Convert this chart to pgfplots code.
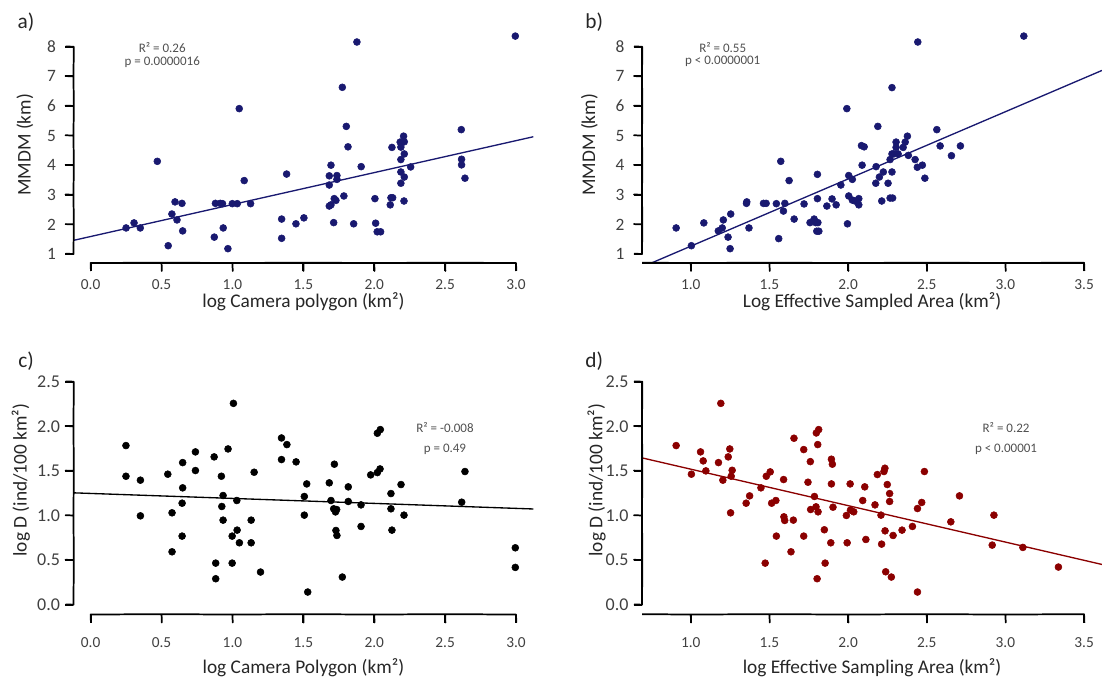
\documentclass[border=0pt]{standalone}
\usepackage{pgfplots}
\pgfplotsset{compat=1.18}
\usepackage{fontspec}
\setmainfont{Carlito}
\definecolor{navy}{RGB}{25,25,112}
\definecolor{dred}{RGB}{139,0,0}
\definecolor{tickc}{RGB}{64,64,64}
\definecolor{labc}{RGB}{38,38,38}
\definecolor{annc}{RGB}{80,80,80}

\pgfplotsset{
 panel/.style={
  scale only axis, clip=false, axis on top,
  axis x line*=bottom, axis y line*=left,
  axis line style={-, draw=black, line width=1.3pt},
  tick align=outside,
  major tick length=6pt,
  major tick style={draw=black, line width=1.3pt},
  /pgf/number format/assume math mode=true,
  xticklabel style={font=\fontsize{11.5}{12}\selectfont, text=tickc, anchor=center},
  yticklabel style={text=tickc, anchor=east},
  xlabel style={font=\fontsize{14.5}{16}\selectfont, text=labc, anchor=center},
  ylabel style={font=\fontsize{14.5}{16}\selectfont, text=labc, anchor=center},
  anchor=south west,
 },
 topx/.style={xticklabel style={yshift=-10.3pt}},
 botx/.style={xticklabel style={yshift=-15.4pt}},
 topy/.style={yticklabel style={xshift=-3.6pt, font=\fontsize{13}{14}\selectfont}, ytick={1,2,3,4,5,6,7,8}, ymin=0.696, ymax=8.5, height=173.3pt,
   y axis line style={shorten <=6.75pt, shorten >=11.1pt}},
 boty/.style={yticklabel style={xshift=-0.6pt, font=\fontsize{13.5}{14}\selectfont}, ytick={0,0.5,1,1.5,2,2.5}, yticklabels={0.0,0.5,1.0,1.5,2.0,2.5}, ymin=-0.110, ymax=2.6, height=181.3pt,
   y axis line style={shorten <=7.36pt, shorten >=6.69pt}},
 leftx/.style={xmin=-0.121, xmax=3.122, width=344.85pt, xtick={0,0.5,1,1.5,2,2.5,3}, xticklabels={0.0,0.5,1.0,1.5,2.0,2.5,3.0},
   x axis line style={shorten <=12.87pt, shorten >=12.97pt}},
 rightx/.style={xmin=0.690, xmax=3.614, width=345pt, xtick={1,1.5,2,2.5,3,3.5}, xticklabels={1.0,1.5,2.0,2.5,3.0,3.5},
   x axis line style={shorten >=13.45pt}},
 dots/.style={only marks, mark=*, mark size=2.6pt, mark options={draw=#1, fill=#1}},
 reg/.style={no marks, line width=1pt, color=#1},
 axpath/.style={no marks, line width=1.3pt, color=black, line join=round, line cap=butt},
}

\begin{document}
\begin{tikzpicture}
\path[use as bounding box] (0,0) rectangle (826.5pt,-510.75pt);

% ---------------- a)
\begin{axis}[panel, leftx, topy, topx, at={(55.125pt,-197.25pt)},
  xlabel={log Camera polygon (km²)}, ylabel={MMDM (km)},
  xlabel style={at={(axis description cs:0.5,-0.169)}},
  ylabel style={at={(axis description cs:-0.1055,0.511)}}]
\addplot[dots=navy] coordinates {
(0.25,1.88)(0.306,2.05)(0.35,1.88)(0.47,4.13)(0.547,1.28)(0.573,2.35)(0.595,2.76)(0.609,2.15)(0.644,2.71)(0.649,1.78)
(0.872,1.57)(0.88,2.71)(0.914,2.71)(0.93,2.70)(0.935,1.88)(0.968,1.18)(0.999,2.70)(1.034,2.70)(1.048,5.91)(1.083,3.48)(1.128,2.70)
(1.347,2.18)(1.347,1.53)(1.382,3.70)(1.448,2.02)(1.504,2.22)(1.695,4.00)(1.683,3.64)(1.683,3.33)(1.737,3.65)(1.737,3.52)
(1.718,2.87)(1.73,2.81)(1.683,2.62)(1.695,2.66)(1.714,2.06)(1.775,6.63)(1.786,2.96)(1.803,5.31)(1.815,4.62)(1.855,2.02)
(1.878,8.16)(1.908,3.95)(2.005,2.87)(2.01,2.04)(2.021,1.75)(2.045,1.75)(2.113,2.66)(2.118,2.90)(2.13,2.90)(2.125,4.60)
(2.183,4.78)(2.188,4.61)(2.207,4.98)(2.212,4.79)(2.212,4.38)(2.188,4.19)(2.188,3.77)(2.212,3.60)(2.188,3.39)(2.21,2.79)
(2.257,3.94)(2.614,5.20)(2.616,4.20)(2.616,4.01)(2.64,3.56)(2.995,8.36)
};
\addplot[reg=navy] coordinates {(-0.121,1.46)(3.122,4.96)};
\addplot[axpath] coordinates {(0.002,0.426)(0,0.696)(0.5,0.706)(0.502,0.426)(0.5,0.706)(1,0.696)(1.002,0.426)(1,0.696)(1.5,0.706)(1.502,0.426)(1.5,0.706)(2,0.696)(2.002,0.426)(2,0.696)(2.5,0.706)(2.502,0.426)(2.5,0.706)(3,0.696)(3.002,0.426)};
\addplot[axpath] coordinates {(-0.177,1.01)(-0.121,1)(-0.119,2)(-0.177,2.01)(-0.119,2)(-0.121,3)(-0.177,3.01)(-0.121,3)(-0.119,4)(-0.177,4.01)(-0.119,4)(-0.121,5)(-0.177,5.01)(-0.121,5)(-0.119,6)(-0.177,6.01)(-0.119,6)(-0.121,7)(-0.177,7.01)(-0.121,7)(-0.119,8)(-0.177,8.01)};
\node[font=\fontsize{9.75}{11}\selectfont, text=annc] at (axis cs:0.505,7.967) {R² = 0.26};
\node[font=\fontsize{9.75}{11}\selectfont, text=annc] at (axis cs:0.505,7.494) {p = 0.0000016};
\node[font=\fontsize{16}{18}\selectfont, text=labc] at (axis description cs:-0.1033,1.044) {a)};
\end{axis}

% ---------------- b)
\begin{axis}[panel, rightx, topy, topx, at={(481.5pt,-197.25pt)},
  xlabel={Log Effective Sampled Area (km²)}, ylabel={MMDM (km)},
  xlabel style={at={(axis description cs:0.5,-0.169)}},
  ylabel style={at={(axis description cs:-0.1146,0.511)}}]
\addplot[dots=navy] coordinates {
(0.907,1.88)(1.004,1.28)(1.083,2.05)(1.175,1.78)(1.2,1.88)(1.207,2.15)(1.237,1.57)(1.25,1.18)(1.254,2.35)
(1.354,2.71)(1.356,2.76)(1.37,1.88)(1.462,2.71)(1.479,2.71)(1.544,2.70)(1.559,1.52)(1.572,4.13)(1.589,2.45)(1.598,2.71)
(1.625,3.48)(1.657,2.18)(1.72,2.69)(1.758,2.06)(1.784,2.18)(1.794,2.06)(1.808,2.06)(1.801,1.77)(1.814,1.77)(1.805,3.69)
(1.805,2.87)(1.865,2.62)(1.898,2.86)(1.924,2.66)(1.954,3.33)(1.996,2.02)(1.992,5.91)(2.004,3.65)(2.004,2.96)(2.027,3.52)
(2.027,2.82)(2.044,2.79)(2.068,2.66)(2.068,2.87)(2.085,4.66)(2.102,4.62)(2.089,4.00)(2.176,3.39)(2.178,3.95)(2.189,5.31)
(2.199,3.60)(2.214,2.79)(2.224,3.77)(2.254,3.39)(2.267,4.19)(2.279,6.62)(2.279,4.38)(2.279,3.77)(2.267,2.89)(2.283,2.89)
(2.29,4.38)(2.305,4.60)(2.305,4.78)(2.318,4.38)(2.35,4.60)(2.363,4.78)(2.377,4.98)(2.383,4.33)(2.426,4.19)(2.44,3.93)
(2.472,4.00)(2.443,8.16)(2.488,3.56)(2.564,5.20)(2.585,4.65)(2.657,4.32)(2.714,4.65)(3.117,8.36)
};
\addplot[reg=navy] coordinates {(0.75,0.696)(3.614,7.20)};
\addplot[axpath] coordinates {(0.69,0.706)(1,0.696)(1.002,0.426)(1,0.696)(1.5,0.706)(1.502,0.426)(1.5,0.706)(2,0.696)(2.002,0.426)(2,0.696)(2.5,0.706)(2.502,0.426)(2.5,0.706)(3,0.696)(3.002,0.426)(3,0.696)(3.5,0.706)(3.502,0.426)};
\addplot[axpath] coordinates {(0.639,1.01)(0.69,1)(0.692,2)(0.639,2.01)(0.692,2)(0.69,3)(0.639,3.01)(0.69,3)(0.692,4)(0.639,4.01)(0.692,4)(0.69,5)(0.639,5.01)(0.69,5)(0.692,6)(0.639,6.01)(0.692,6)(0.69,7)(0.639,7.01)(0.69,7)(0.692,8)(0.639,8.01)};
\node[font=\fontsize{9.75}{11}\selectfont, text=annc] at (axis cs:1.203,7.967) {R² = 0.55};
\node[font=\fontsize{9.75}{11}\selectfont, text=annc] at (axis cs:1.203,7.494) {p < 0.0000001};
\node[font=\fontsize{16}{18}\selectfont, text=labc] at (axis description cs:-0.1037,1.044) {b)};
\end{axis}

% ---------------- c)
\begin{axis}[panel, leftx, boty, botx, at={(55.125pt,-460.875pt)},
  xlabel={log Camera Polygon (km²)}, ylabel={log D (ind/100 km²)},
  xlabel style={at={(axis description cs:0.5,-0.221)}},
  ylabel style={at={(axis description cs:-0.1148,0.556)}}]
\addplot[dots=black] coordinates {
(0.249,1.784)(0.249,1.440)(0.351,1.396)(0.351,0.996)(0.544,1.463)(0.574,1.030)(0.574,0.593)(0.649,1.593)(0.649,1.310)
(0.645,1.138)(0.645,0.769)(0.739,1.713)(0.739,1.504)(0.871,1.657)(0.882,0.466)(0.882,0.291)(0.922,1.440)(0.934,1.224)
(0.925,1.101)(0.934,0.948)(0.969,1.746)(1.007,2.257)(0.998,0.769)(0.998,0.466)(1.031,1.168)(1.033,0.836)(1.049,0.694)
(1.132,0.948)(1.132,0.694)(1.153,1.485)(1.198,0.366)(1.346,1.869)(1.384,1.795)(1.346,1.627)(1.449,1.601)
(1.524,1.354)(1.507,1.213)(1.507,1.004)(1.531,0.142)(1.719,1.575)(1.683,1.366)(1.695,1.168)(1.714,1.075)(1.735,1.067)
(1.727,1.040)(1.730,0.832)(1.737,0.776)(1.775,0.310)(1.817,1.321)(1.817,1.157)(1.907,1.119)(1.907,0.877)(1.975,1.455)
(2.022,1.481)(2.041,1.522)(2.022,1.922)(2.043,1.963)(2.118,1.246)(2.118,1.075)(2.125,0.836)(2.189,1.347)(2.210,1.004)
(2.640,1.493)(2.617,1.149)(2.995,0.638)(2.995,0.418)
};
\addplot[reg=black] coordinates {(-0.121,1.254)(3.122,1.073)};
\addplot[axpath] coordinates {(0.002,-0.2)(0,-0.11)(0.5,-0.1066)(0.502,-0.2)(0.5,-0.1066)(1,-0.11)(1.002,-0.2)(1,-0.11)(1.5,-0.1066)(1.502,-0.2)(1.5,-0.1066)(2,-0.11)(2.002,-0.2)(2,-0.11)(2.5,-0.1066)(2.502,-0.2)(2.5,-0.1066)(3,-0.11)(3.002,-0.2)};
\addplot[axpath] coordinates {(-0.177,0.0034)(-0.121,0)(-0.119,0.5)(-0.177,0.5034)(-0.119,0.5)(-0.121,1)(-0.177,1.0034)(-0.121,1)(-0.119,1.5)(-0.177,1.5034)(-0.119,1.5)(-0.121,2)(-0.177,2.0034)(-0.121,2)(-0.119,2.5)(-0.177,2.5034)};
\node[font=\fontsize{9.75}{11}\selectfont, text=annc] at (axis cs:2.499,1.989) {R² = -0.008};
\node[font=\fontsize{9.75}{11}\selectfont, text=annc] at (axis cs:2.499,1.746) {p = 0.49};
\node[font=\fontsize{16}{18}\selectfont, text=labc] at (axis description cs:-0.1033,1.046) {c)};
\end{axis}

% ---------------- d)
\begin{axis}[panel, rightx, boty, botx, at={(481.5pt,-460.875pt)},
  xlabel={log Effective Sampling Area (km²)}, ylabel={log D (ind/100 km²)},
  xlabel style={at={(axis description cs:0.5,-0.221)}},
  ylabel style={at={(axis description cs:-0.0985,0.556)}}]
\addplot[dots=dred] coordinates {
(0.907,1.784)(1.004,1.463)(1.062,1.713)(1.079,1.612)(1.096,1.500)(1.191,2.257)(1.176,1.593)(1.204,1.396)(1.238,1.657)
(1.248,1.746)(1.263,1.507)(1.257,1.440)(1.253,1.030)(1.374,1.220)(1.352,1.138)(1.446,1.310)(1.473,0.466)(1.480,1.440)
(1.505,1.489)(1.514,1.138)(1.541,1.168)(1.544,0.769)(1.590,1.403)(1.592,0.985)(1.597,0.944)(1.652,0.948)(1.637,0.593)
(1.656,1.866)(1.718,1.739)(1.718,0.769)(1.745,1.373)(1.760,1.604)(1.786,1.213)(1.762,1.067)(1.796,1.097)(1.809,1.041)
(1.798,1.925)(1.813,1.963)(1.807,1.795)(1.849,0.840)(1.854,0.466)(1.803,0.291)(1.890,0.694)(1.894,1.631)(1.900,1.575)
(1.894,1.354)(1.904,1.093)(1.989,1.000)(2.013,1.354)(2.015,1.060)(2.036,1.041)(1.994,0.694)(2.093,1.168)(2.106,1.321)
(2.113,0.731)(2.171,1.119)(2.186,1.459)(2.228,1.493)(2.234,1.530)(2.249,1.347)(2.264,1.246)(2.264,1.157)(2.209,1.004)
(2.235,0.828)(2.213,0.679)(2.286,0.776)(2.343,0.836)(2.409,0.877)(2.441,1.078)(2.468,1.146)(2.485,1.493)(2.239,0.369)
(2.275,0.310)(2.441,0.142)(2.653,0.929)(2.708,1.220)(2.927,1.004)(2.916,0.668)(3.111,0.642)(3.337,0.422)
};
\addplot[reg=dred] coordinates {(0.690,1.646)(3.614,0.451)};
\addplot[axpath] coordinates {(0.69,-0.1066)(1,-0.11)(1.002,-0.2)(1,-0.11)(1.5,-0.1066)(1.502,-0.2)(1.5,-0.1066)(2,-0.11)(2.002,-0.2)(2,-0.11)(2.5,-0.1066)(2.502,-0.2)(2.5,-0.1066)(3,-0.11)(3.002,-0.2)(3,-0.11)(3.5,-0.1066)(3.502,-0.2)};
\addplot[axpath] coordinates {(0.639,0.0034)(0.69,0)(0.692,0.5)(0.639,0.5034)(0.692,0.5)(0.69,1)(0.639,1.0034)(0.69,1)(0.692,1.5)(0.639,1.5034)(0.692,1.5)(0.69,2)(0.639,2.0034)(0.69,2)(0.692,2.5)(0.639,2.5034)};
\node[font=\fontsize{9.75}{11}\selectfont, text=annc] at (axis cs:3.004,1.989) {R² = 0.22};
\node[font=\fontsize{9.75}{11}\selectfont, text=annc] at (axis cs:3.004,1.746) {p < 0.00001};
\node[font=\fontsize{16}{18}\selectfont, text=labc] at (axis description cs:-0.1037,1.046) {d)};
\end{axis}
\end{tikzpicture}
\end{document}
